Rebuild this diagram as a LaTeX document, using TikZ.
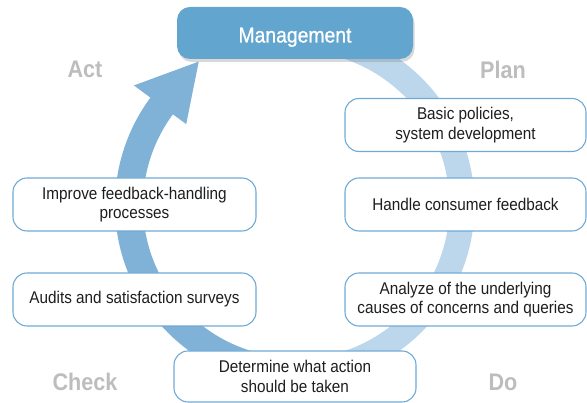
\documentclass[tikz,border=0pt]{standalone}
\usepackage{fontspec}
\setmainfont{Liberation Sans}[FakeStretch=0.9]
\newfontfamily\mgmtfont{Liberation Sans}[FakeStretch=0.9,FakeBold=0.8]
\usetikzlibrary{shadows,calc}
\definecolor{mgmtblue}{HTML}{62A6CF}
\definecolor{darkarc}{HTML}{7FB2D6}
\definecolor{lightarc}{HTML}{BCD6EB}
\definecolor{boxline}{HTML}{6FAAD6}
\definecolor{phasegray}{HTML}{BDBDBD}
\definecolor{txt}{HTML}{1E1E1E}
\begin{document}
\begin{tikzpicture}[x=1pt,y=1pt,
  stepbox/.style={draw=boxline, line width=1.1pt, fill=white, rounded corners=14pt,
    minimum width=241pt, minimum height=53pt, align=center, text=txt,
    font=\fontsize{17}{19.5}\selectfont, inner sep=0pt},
  phase/.style={text=phasegray, font=\bfseries\fontsize{24}{26}\selectfont},
  mgmtbox/.style={fill=mgmtblue, rounded corners=13pt, minimum width=236pt,
    minimum height=52pt, text=white, font=\mgmtfont\fontsize{21.5}{24}\selectfont,
    text height=19pt, text depth=0pt, inner sep=0pt,
    drop shadow={opacity=0.3, shadow xshift=1.5pt, shadow yshift=-3pt}}]
\useasboundingbox (0,0) rectangle (587,403);
\coordinate (C) at (295.5,198);
% light arc (right side)
\draw[lightarc, line width=25pt] (C) ++(90:166.5) arc[start angle=90, end angle=-90, radius=166.5];
% dark arc (left side) with arrow head
\draw[darkarc, line width=28pt] (C) ++(270:166.5) arc[start angle=270, end angle=142.5, radius=166.5];
\coordinate (hl) at ($(C)+(143.5:201)$);
\coordinate (hr) at ($(C)+(143.5:136)$);
\coordinate (tip) at ($(C)+(124:173)$);
\fill[darkarc] (hl) -- (tip) -- (hr) -- cycle;
% management
\node[mgmtbox] (mgmt) at (295,370) {Management};
% step boxes
\node[stepbox] (basic) at (465.5,278) {Basic policies,\\system development};
\node[stepbox] (handle) at (465.5,198.5) {Handle consumer feedback};
\node[stepbox] (analyze) at (465.5,103.5) {Analyze of the underlying\\causes of concerns and queries};
\node[stepbox, minimum width=242pt, minimum height=51pt] (determine) at (295,26.5) {Determine what action\\should be taken};
\node[stepbox, minimum width=243pt] (improve) at (134.5,198.5) {Improve feedback-handling\\processes};
\node[stepbox, minimum width=243pt] (audits) at (134.5,103.5) {Audits and satisfaction surveys};
% phase labels
\node[phase] (act) at (85,334) {Act};
\node[phase] (plan) at (503,333) {Plan};
\node[phase] (check) at (85,21) {Check};
\node[phase] (do) at (503,21) {Do};
\end{tikzpicture}
\end{document}
